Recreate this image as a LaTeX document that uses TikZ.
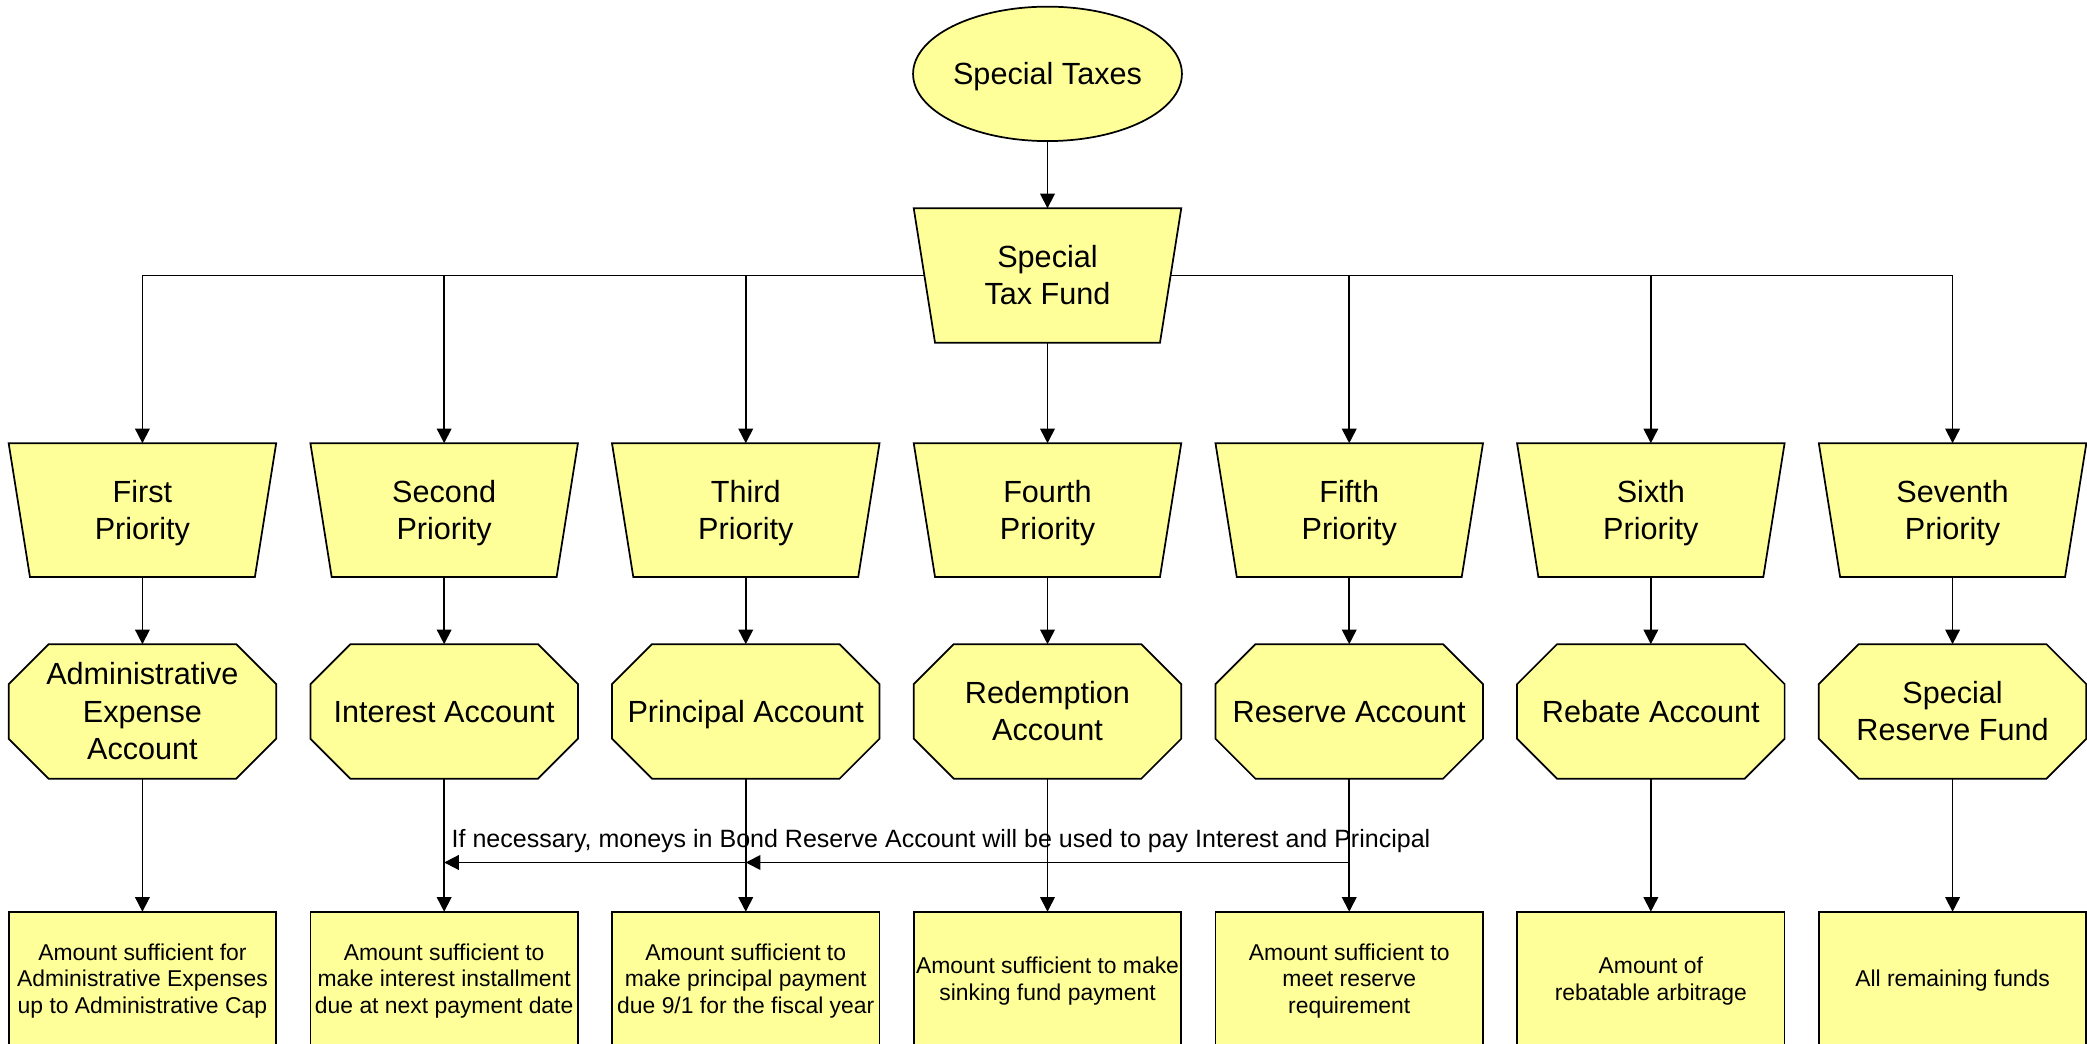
\documentclass[tikz,border=0pt]{standalone}
\usepackage{fontspec}
\setmainfont{Liberation Sans}
\usetikzlibrary{arrows.meta}
\pgfdeclarelayer{edgelayer}
\pgfdeclarelayer{shapelayer}
\pgfsetlayers{edgelayer,shapelayer,main}
\definecolor{boxfill}{RGB}{255,255,153}
\newcommand\ls{\vrule width 0pt height 0.905em depth 0.212em\relax}
\tikzset{
  shapeline/.style={draw=black,fill=boxfill,line width=1.3pt,line join=miter},
  bignode/.style={rectangle,draw=none,inner sep=0pt,outer sep=0pt,minimum width=201pt,minimum height=101pt,align=center,font=\fontsize{23}{28}\selectfont},
  resultbox/.style={rectangle,shapeline,outer sep=0pt,minimum width=201pt,minimum height=101pt,inner sep=0pt,align=center,font=\fontsize{17.2}{20.2}\selectfont},
  conn/.style={line width=1.3pt,-{Triangle[length=11pt,width=11pt]}},
  plainconn/.style={line width=1.3pt},
  notelabel/.style={inner sep=0pt,font=\fontsize{18.8}{22}\selectfont}
}
\newcommand\trapout[1]{\filldraw[shapeline] (#1.north west) -- (#1.north east) -- ([xshift=-16pt]#1.south east) -- ([xshift=16pt]#1.south west) -- cycle;}
\newcommand\octout[1]{\filldraw[shapeline] ([xshift=30pt]#1.north west) -- ([xshift=-30pt]#1.north east) -- ([yshift=-30pt]#1.north east) -- ([yshift=30pt]#1.south east) -- ([xshift=-30pt]#1.south east) -- ([xshift=30pt]#1.south west) -- ([yshift=30pt]#1.south west) -- ([yshift=-30pt]#1.north west) -- cycle;}
\begin{document}
\begin{tikzpicture}[x=1pt,y=1pt]
\useasboundingbox (0,0) rectangle (1568,-784);

% top
\node[bignode] (tax) at (787,-55.5) {\ls Special Taxes};
\node[bignode] (fund) at (787,-207) {\ls Special\\\ls Tax Fund};

% priorities
\node[bignode,minimum height=100.5pt] (p1) at (107,-383.25) {\ls First\\\ls Priority};
\node[bignode,minimum height=100.5pt] (p2) at (333.7,-383.25) {\ls Second\\\ls Priority};
\node[bignode,minimum height=100.5pt] (p3) at (560.3,-383.25) {\ls Third\\\ls Priority};
\node[bignode,minimum height=100.5pt] (p4) at (787,-383.25) {\ls Fourth\\\ls Priority};
\node[bignode,minimum height=100.5pt] (p5) at (1013.7,-383.25) {\ls Fifth\\\ls Priority};
\node[bignode,minimum height=100.5pt] (p6) at (1240.3,-383.25) {\ls Sixth\\\ls Priority};
\node[bignode,minimum height=100.5pt] (p7) at (1467,-383.25) {\ls Seventh\\\ls Priority};

% accounts
\node[bignode] (o1) at (107,-534.5) {\ls Administrative\\\ls Expense\\\ls Account};
\node[bignode] (o2) at (333.7,-534.5) {\ls Interest Account};
\node[bignode] (o3) at (560.3,-534.5) {\ls Principal Account};
\node[bignode] (o4) at (787,-534.5) {\ls Redemption\\\ls Account};
\node[bignode] (o5) at (1013.7,-534.5) {\ls Reserve Account};
\node[bignode] (o6) at (1240.3,-534.5) {\ls Rebate Account};
\node[bignode] (o7) at (1467,-534.5) {\ls Special\\\ls Reserve Fund};

% results
\node[resultbox] (b1) at (107,-735.5) {\ls Amount sufficient for\\\ls Administrative Expenses\\\ls up to Administrative Cap};
\node[resultbox] (b2) at (333.7,-735.5) {\ls Amount sufficient to\\\ls make interest installment\\\ls due at next payment date};
\node[resultbox] (b3) at (560.3,-735.5) {\ls Amount sufficient to\\\ls make principal payment\\\ls due 9/1 for the fiscal year};
\node[resultbox] (b4) at (787,-735.5) {\ls Amount sufficient to make\\\ls sinking fund payment};
\node[resultbox] (b5) at (1013.7,-735.5) {\ls Amount sufficient to\\\ls meet reserve\\\ls requirement};
\node[resultbox] (b6) at (1240.3,-735.5) {\ls Amount of\\\ls rebatable arbitrage};
\node[resultbox] (b7) at (1467,-735.5) {\ls All remaining funds};

\node[notelabel,anchor=base] (note) at (707,-637) {If necessary, moneys in Bond Reserve Account will be used to pay Interest and Principal};

% junctions
\coordinate (j1) at (107,-207);
\coordinate (j2) at (333.7,-207);
\coordinate (j3) at (560.3,-207);
\coordinate (j5) at (1013.7,-207);
\coordinate (j6) at (1240.3,-207);
\coordinate (j7) at (1467,-207);
\coordinate (r0) at (1013.7,-648);
\coordinate (r1) at (560.3,-648);
\coordinate (r2) at (333.7,-648);

\begin{pgfonlayer}{shapelayer}
  \filldraw[shapeline] (tax.center) ellipse [x radius=101pt, y radius=50.5pt];
  \trapout{fund}
  \foreach \i in {1,...,7} {\trapout{p\i} \octout{o\i}}
\end{pgfonlayer}

\begin{pgfonlayer}{edgelayer}
  \draw[conn] (tax) -- (fund);
  \draw[plainconn] (j1) -- (j7);
  \foreach \i in {1,2,3,5,6,7} {\draw[conn] (j\i) -- (p\i.north);}
  \draw[conn] (fund) -- (p4);
  \foreach \i in {1,...,7} {\draw[conn] (p\i) -- (o\i); \draw[conn] (o\i) -- (b\i);}
  \draw[conn] (r0) -- (r1);
  \draw[conn] (r1) -- (r2);
\end{pgfonlayer}
\end{tikzpicture}
\end{document}
